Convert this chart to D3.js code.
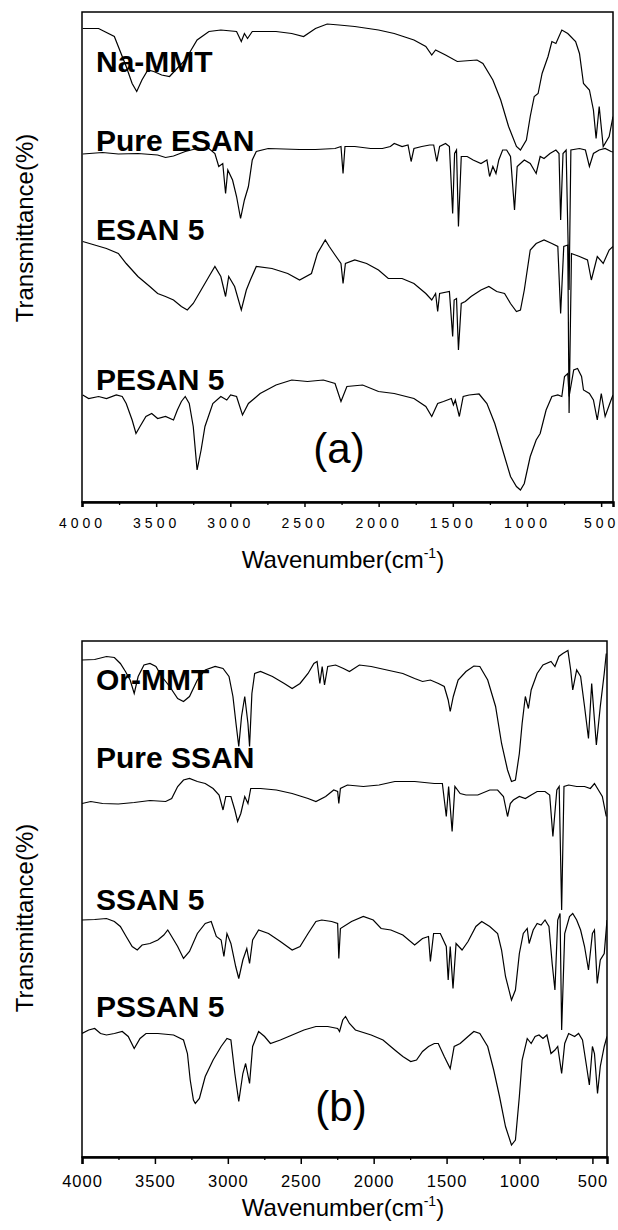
<!DOCTYPE html>
<html><head><meta charset="utf-8">
<script src="https://cdn.jsdelivr.net/npm/d3@7"></script>
<style>body{margin:0;background:#fff}svg{display:block}</style>
</head><body>
<script>
// ---------- DATA: [wavenumber (cm-1), transmittance (a.u., offset)] ----------
const xTickValues = [4000,3500,3000,2500,2000,1500,1000,500];
const xMinorValues = [3750,3250,2750,2250,1750,1250,750];
const panelTags = ["(a)","(b)"];
const namesA = ["Na-MMT","Pure ESAN","ESAN 5","PESAN 5"];
const namesB = ["Or-MMT","Pure SSAN","SSAN 5","PSSAN 5"];
const xTitle = "Wavenumber(cm";
const yTitle = "Transmittance(%)";

const naMMT = [[3995,94.7],[3888,94.7],[3782,93.1],[3702,87.1],[3662,83.7],[3631,82.1],[3596,84.4],[3556,86.4],[3516,86.1],[3463,85.4],[3410,85.1],[3304,88.4],[3224,92.4],[3144,94.1],[3064,94.4],[2958,94.1],[2926,92.1],[2905,93.7],[2884,92.7],[2852,94.1],[2692,94.1],[2586,93.7],[2506,93.1],[2426,94.7],[2347,95.6],[2267,95.4],[2161,95.1],[2001,94.4],[1895,93.7],[1762,92.4],[1682,91.1],[1642,89.4],[1616,90.4],[1549,89.4],[1470,88.1],[1337,88.4],[1297,87.7],[1230,84.4],[1177,80.4],[1124,75.1],[1071,71.1],[1044,70.4],[1004,72.4],[978,77.1],[951,81.1],[925,81.7],[898,85.7],[858,89.1],[832,92.1],[805,91.7],[765,94.4],[725,93.7],[672,92.1],[646,89.7],[619,83.7],[579,82.4],[552,78.4],[534,72.7],[513,79.1],[486,71.1],[446,73.1],[420,77.1]];

const pureESAN = [[3995,69.6],[3862,69.9],[3755,69.6],[3623,69.7],[3490,69.4],[3437,68.9],[3383,69.2],[3304,70.1],[3224,70.7],[3144,70.7],[3104,69.7],[3078,67.1],[3051,67.7],[3032,61.7],[3017,66.4],[2985,64.4],[2958,61.1],[2931,56.7],[2905,60.4],[2878,63.1],[2852,68.4],[2825,70.1],[2745,70.7],[2639,70.6],[2533,70.5],[2426,70.5],[2294,70.7],[2254,71.1],[2240,65.7],[2227,71.1],[2161,71.1],[2054,70.7],[1975,70.7],[1921,71.1],[1895,71.7],[1842,71.1],[1802,71.4],[1781,68.1],[1762,70.7],[1709,71.1],[1656,71.4],[1629,71.4],[1608,68.1],[1589,71.1],[1549,71.7],[1523,71.1],[1501,57.7],[1488,69.7],[1475,70.4],[1462,55.1],[1443,69.1],[1403,69.1],[1363,68.4],[1310,67.7],[1270,68.4],[1252,65.1],[1230,67.1],[1209,65.7],[1190,68.4],[1164,70.4],[1137,70.4],[1111,69.1],[1084,58.4],[1066,67.1],[1044,67.7],[1018,68.4],[978,67.7],[938,65.7],[911,69.1],[885,68.7],[845,69.7],[805,70.4],[784,69.7],[773,56.4],[757,69.7],[736,70.4],[716,42.4],[704,70.4],[646,70.7],[606,70.4],[579,67.1],[552,69.7],[513,70.4],[473,70.7],[433,70.1],[420,70.0]];

const esan5 = [[3995,52.1],[3915,51.4],[3835,50.7],[3755,49.7],[3702,47.7],[3623,45.1],[3543,43.1],[3490,41.7],[3437,41.1],[3383,40.4],[3330,39.1],[3290,38.4],[3250,39.7],[3197,42.4],[3144,45.1],[3104,47.1],[3064,45.1],[3032,41.1],[3011,45.1],[2971,43.1],[2926,38.4],[2892,42.4],[2865,44.4],[2825,47.1],[2719,46.7],[2613,45.7],[2533,44.4],[2453,45.7],[2413,49.7],[2360,52.4],[2333,51.1],[2294,49.4],[2254,47.7],[2240,43.7],[2224,47.7],[2161,48.4],[2081,47.7],[2001,46.4],[1935,44.7],[1842,44.7],[1762,43.7],[1682,41.7],[1642,40.4],[1616,41.7],[1602,38.1],[1589,41.7],[1523,42.1],[1501,33.1],[1491,40.4],[1475,40.7],[1462,30.4],[1443,39.7],[1416,40.1],[1377,41.1],[1310,42.4],[1257,43.1],[1204,42.1],[1151,41.7],[1111,39.7],[1071,38.1],[1044,38.4],[1018,42.4],[978,50.4],[938,51.7],[885,52.4],[832,51.7],[792,51.1],[773,37.7],[752,51.1],[725,51.4],[716,17.8],[700,49.7],[646,49.1],[592,48.4],[566,44.4],[526,49.1],[486,47.7],[446,50.4],[420,51.1]];

const pesan5 = [[3995,21.4],[3955,20.7],[3888,21.1],[3835,20.7],[3769,21.4],[3729,21.1],[3702,19.7],[3662,16.4],[3636,13.7],[3609,15.1],[3569,17.1],[3530,17.7],[3490,16.7],[3437,17.1],[3383,16.4],[3357,18.4],[3330,20.1],[3304,21.1],[3277,19.7],[3250,15.1],[3224,6.4],[3197,10.4],[3171,15.1],[3118,19.7],[3064,21.1],[3024,20.4],[2998,21.4],[2958,21.1],[2918,17.4],[2878,19.7],[2838,20.7],[2799,21.7],[2692,23.4],[2586,24.4],[2480,24.1],[2373,24.4],[2294,23.7],[2254,20.1],[2214,23.1],[2108,23.4],[2001,22.1],[1895,21.7],[1762,20.7],[1682,19.1],[1642,17.1],[1602,19.7],[1563,20.1],[1510,20.7],[1496,19.4],[1483,20.4],[1456,17.1],[1430,21.1],[1390,21.4],[1323,21.6],[1270,19.7],[1217,15.7],[1164,10.4],[1111,5.1],[1071,3.1],[1044,2.4],[1018,3.7],[978,9.1],[938,12.4],[911,13.7],[871,18.4],[832,21.1],[792,21.4],[765,21.1],[747,25.1],[725,25.7],[716,21.1],[685,26.4],[659,26.7],[632,25.1],[619,22.4],[579,21.7],[552,20.4],[526,16.4],[499,21.7],[473,17.1],[433,20.4],[420,21.4]];

const orMMT = [[4000,99.4],[3913,99.5],[3832,100.1],[3778,99.9],[3737,98.7],[3702,97.1],[3670,95.4],[3642,92.7],[3615,96.1],[3575,98.4],[3534,98.7],[3493,98.1],[3453,96.1],[3399,94.1],[3344,91.7],[3304,91.1],[3263,92.1],[3209,95.4],[3155,97.4],[3087,98.1],[3033,97.7],[2992,96.1],[2965,92.1],[2944,86.7],[2925,82.1],[2906,88.1],[2884,92.1],[2862,86.7],[2851,82.1],[2835,92.7],[2816,96.7],[2776,97.1],[2694,96.1],[2613,94.7],[2559,93.7],[2505,94.7],[2450,96.7],[2410,98.7],[2388,99.1],[2369,94.7],[2353,98.1],[2337,94.4],[2315,98.1],[2261,98.4],[2207,97.7],[2166,97.1],[2098,98.4],[2017,98.1],[1909,97.4],[1800,96.7],[1719,95.7],[1665,95.1],[1611,95.4],[1556,94.7],[1516,94.1],[1489,91.4],[1475,89.1],[1454,92.1],[1421,95.4],[1367,97.1],[1313,98.2],[1272,98.1],[1218,95.4],[1164,90.1],[1123,82.7],[1082,77.4],[1055,75.1],[1028,75.4],[1001,80.7],[982,86.7],[960,92.1],[939,89.7],[920,93.4],[879,96.7],[839,98.4],[784,99.1],[757,98.1],[730,100.1],[703,100.7],[668,101.3],[649,97.4],[635,93.4],[608,97.4],[581,96.1],[554,90.1],[527,83.7],[505,94.7],[486,87.4],[473,82.4],[446,90.1],[419,96.7],[405,100.7]];

const pureSSAN = [[4000,70.7],[3940,71.1],[3859,70.7],[3751,70.6],[3642,70.9],[3534,71.3],[3426,71.1],[3385,71.7],[3344,74.1],[3304,75.4],[3263,75.7],[3209,75.1],[3155,74.7],[3101,73.7],[3060,72.4],[3033,69.4],[3014,72.1],[2979,72.1],[2952,69.4],[2933,67.1],[2911,68.7],[2884,72.1],[2862,70.7],[2843,73.7],[2776,73.7],[2667,73.4],[2559,72.7],[2450,71.7],[2396,71.1],[2329,72.1],[2274,73.4],[2247,73.1],[2239,70.7],[2228,73.7],[2180,74.4],[2071,74.1],[1963,74.4],[1855,75.1],[1719,75.1],[1584,74.7],[1529,74.7],[1502,68.1],[1486,74.1],[1462,65.1],[1443,74.1],[1407,72.7],[1367,72.4],[1286,72.4],[1204,73.4],[1150,73.4],[1110,72.1],[1082,68.1],[1063,70.7],[1042,71.4],[1001,72.1],[960,71.7],[920,72.4],[879,73.1],[825,73.1],[793,72.4],[771,64.1],[744,73.4],[728,74.1],[711,49.4],[695,74.1],[663,74.4],[608,74.1],[554,74.1],[514,73.7],[486,74.7],[459,73.4],[432,72.1],[405,68.1]];

const ssan5 = [[4000,47.4],[3913,47.5],[3832,47.7],[3778,47.1],[3737,46.1],[3697,44.1],[3656,42.1],[3621,41.4],[3588,42.4],[3534,42.7],[3480,43.4],[3439,44.4],[3412,45.4],[3385,44.1],[3344,42.1],[3304,39.7],[3263,41.1],[3209,44.7],[3155,46.7],[3114,47.1],[3079,44.1],[3046,43.4],[3027,40.1],[3006,44.7],[2979,42.7],[2946,38.1],[2925,35.7],[2897,39.4],[2870,41.7],[2851,38.7],[2830,43.4],[2789,45.4],[2721,44.7],[2640,43.1],[2559,41.4],[2505,42.1],[2450,44.7],[2396,47.1],[2356,47.4],[2288,47.1],[2247,46.7],[2239,39.7],[2228,45.7],[2152,47.1],[2071,48.1],[2003,47.4],[1949,45.7],[1882,45.4],[1800,44.4],[1719,42.4],[1665,43.7],[1624,44.1],[1611,39.1],[1589,44.7],[1543,44.7],[1502,42.1],[1489,35.4],[1475,42.1],[1456,33.7],[1435,42.7],[1394,41.4],[1353,43.1],[1299,46.1],[1259,47.1],[1204,46.1],[1150,44.7],[1123,41.4],[1096,36.1],[1055,31.4],[1028,33.4],[1001,40.7],[974,44.7],[947,45.7],[934,42.7],[906,45.4],[879,46.7],[852,46.4],[825,47.4],[798,46.1],[776,38.7],[757,33.4],[738,47.4],[722,48.7],[711,25.4],[690,44.7],[657,48.1],[635,48.7],[608,47.4],[581,45.4],[554,42.1],[527,37.4],[500,44.7],[486,45.4],[467,34.7],[446,39.4],[419,40.7],[400,47.4]];

const pssan5 = [[4000,24.7],[3954,25.4],[3913,25.7],[3873,24.7],[3832,24.4],[3778,24.7],[3724,25.1],[3683,24.1],[3642,21.7],[3602,23.7],[3561,24.7],[3480,24.7],[3372,24.4],[3304,23.4],[3277,20.7],[3258,15.4],[3236,11.4],[3223,10.7],[3195,11.7],[3155,16.1],[3101,19.4],[3046,22.1],[3006,23.7],[2979,23.4],[2952,16.7],[2925,11.1],[2897,16.7],[2878,18.7],[2851,14.7],[2830,22.1],[2789,25.1],[2748,24.1],[2708,22.7],[2640,23.4],[2559,24.4],[2478,25.4],[2396,26.1],[2315,26.1],[2247,25.7],[2234,25.1],[2212,27.4],[2193,28.1],[2166,26.7],[2125,25.4],[2017,24.4],[1936,23.4],[1855,21.4],[1800,20.1],[1746,19.1],[1706,19.4],[1665,21.1],[1624,22.1],[1584,22.7],[1557,22.7],[1516,20.1],[1475,17.7],[1448,22.1],[1407,22.7],[1353,24.1],[1313,25.1],[1272,24.7],[1218,22.1],[1177,17.4],[1137,12.1],[1096,6.1],[1055,2.4],[1028,3.4],[1001,12.1],[982,19.4],[947,23.7],[920,22.7],[893,24.1],[866,24.4],[839,23.7],[812,24.4],[784,20.7],[757,21.4],[738,22.1],[711,16.7],[690,22.7],[663,24.7],[622,24.1],[595,24.7],[568,23.4],[540,18.1],[521,14.4],[500,22.1],[486,20.7],[465,12.7],[446,18.1],[419,22.1],[400,24.1]];

// ---------- DRAW ----------
const W = 618, H = 1230;
const svg = d3.select("body").append("svg").attr("width", W).attr("height", H)
  .style("font-family", "'Liberation Sans', Arial, sans-serif");

const panels = [
  {id:"a", xDom:[4000,420], xRange:[82,613], yDom:[0,98], yRange:[502,12],
   series:[naMMT,pureESAN,esan5,pesan5], names:namesA, nameVals:[86,70.2,52.4,22.4],
   tag:panelTags[0], tagX:339, tagVal:7.8, tickFont:14, tickSpacing:"4px", tickBase:26,
   xTitleY:568, yTitleCY:228},
  {id:"b", xDom:[4000,400], xRange:[82,607], yDom:[0,103.2], yRange:[1157,641],
   series:[orMMT,pureSSAN,ssan5,pssan5], names:namesB, nameVals:[93.4,77.8,49.4,28],
   tag:panelTags[1], tagX:341, tagVal:7.2, tickFont:16.5, tickSpacing:"1px", tickBase:30,
   xTitleY:1216, yTitleCY:918}
];

panels.forEach(p => {
  const x = d3.scaleLinear().domain(p.xDom).range(p.xRange);
  const y = d3.scaleLinear().domain(p.yDom).range(p.yRange);
  const g = svg.append("g");
  const [x0,x1] = p.xRange, [yb,yt] = p.yRange;

  g.append("clipPath").attr("id","clip"+p.id).append("rect")
    .attr("x",x0).attr("y",yt).attr("width",x1-x0).attr("height",yb-yt);

  // names
  p.names.forEach((n,i) => {
    g.append("text").attr("x", 96).attr("y", y(p.nameVals[i]))
      .attr("font-size", 30).attr("font-weight", "bold").attr("fill","#000").text(n);
  });

  // spectra
  const line = d3.line().x(d => x(d[0])).y(d => y(d[1]));
  p.series.forEach(s => {
    g.append("path").datum(s).attr("d", line).attr("fill","none")
      .attr("stroke","#000").attr("stroke-width",1.2).attr("clip-path","url(#clip"+p.id+")");
  });

  // frame
  g.append("rect").attr("x",x0).attr("y",yt).attr("width",x1-x0).attr("height",yb-yt)
    .attr("fill","none").attr("stroke","#000").attr("stroke-width",1.5);

  // bottom axis
  const ax = d3.axisBottom(x).tickValues(xTickValues).tickSize(p.id==="a"?5:7).tickFormat(d3.format("d"));
  const axG = g.append("g").attr("transform",`translate(0,${yb})`).call(ax);
  axG.select(".domain").attr("stroke-width",2.5);
  axG.selectAll(".tick line").attr("stroke-width",1.5);
  axG.selectAll("text").attr("font-size",p.tickFont).attr("fill","#000")
    .attr("letter-spacing",p.tickSpacing).attr("y",p.tickBase-p.tickFont*0.72).attr("dy","0.71em")
    .style("font-family","'Liberation Sans', Arial, sans-serif");
  const axm = d3.axisBottom(x).tickValues(xMinorValues).tickSize(3).tickFormat("");
  const axmG = g.append("g").attr("transform",`translate(0,${yb})`).call(axm);
  axmG.select(".domain").remove();
  axmG.selectAll(".tick line").attr("stroke-width",1.3);

  // panel tag
  g.append("text").attr("x",p.tagX).attr("y",y(p.tagVal)).attr("text-anchor","middle")
    .attr("font-size",42).attr("fill","#000").text(p.tag);

  // x title
  const xt = g.append("text").attr("x",343).attr("y",p.xTitleY).attr("text-anchor","middle")
    .attr("font-size",24).attr("fill","#000");
  xt.append("tspan").text(xTitle);
  xt.append("tspan").attr("font-size",14).attr("dy",-10).text("-1");
  xt.append("tspan").attr("dy",10).text(")");

  // y title
  g.append("text").attr("transform",`translate(33,${p.yTitleCY}) rotate(-90)`)
    .attr("text-anchor","middle").attr("font-size",24).attr("fill","#000").text(yTitle);
});
</script>
</body></html>
